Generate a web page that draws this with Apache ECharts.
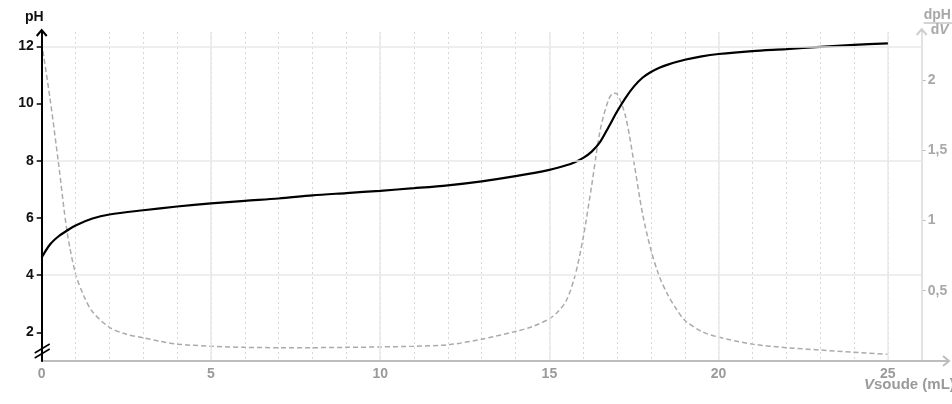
<!DOCTYPE html>
<html><head><meta charset="utf-8">
<script src="https://cdn.jsdelivr.net/npm/echarts@6/dist/echarts.min.js"></script>
<style>html,body{margin:0;padding:0;background:#fff}#c{width:952px;height:404px}</style>
</head><body><div id="c"></div>
<script>
// pH curve (left axis)
const phVolumes = [0, 0.25, 0.5, 0.75, 1, 1.5, 2, 3, 4, 5, 6, 7, 8, 9, 10, 11, 12, 13, 14, 15, 15.5, 15.75, 16, 16.25, 16.5, 16.75, 17, 17.25, 17.5, 17.75, 18, 18.25, 18.5, 19, 19.5, 20, 21, 22, 23, 24, 25];
const phValues  = [4.62, 5.08, 5.36, 5.56, 5.74, 5.98, 6.12, 6.27, 6.40, 6.51, 6.60, 6.68, 6.79, 6.87, 6.95, 7.04, 7.14, 7.28, 7.46, 7.68, 7.84, 7.95, 8.10, 8.32, 8.66, 9.18, 9.72, 10.20, 10.60, 10.90, 11.10, 11.25, 11.36, 11.53, 11.65, 11.73, 11.83, 11.90, 11.98, 12.05, 12.10];
// derivative dpH/dV (right axis)
const derivVolumes = [0, 0.25, 0.5, 0.75, 1, 1.25, 1.5, 2, 2.5, 3, 3.5, 4, 5, 6, 7, 8, 9, 10, 11, 12, 13, 14, 14.5, 15, 15.25, 15.5, 15.75, 16, 16.25, 16.5, 16.75, 16.9, 17, 17.25, 17.5, 17.75, 18, 18.25, 18.5, 18.75, 19, 19.5, 20, 21, 22, 23, 24, 25];
const derivValues  = [2.26, 1.86, 1.40, 0.92, 0.62, 0.46, 0.35, 0.24, 0.19, 0.165, 0.14, 0.12, 0.105, 0.097, 0.095, 0.095, 0.097, 0.10, 0.105, 0.115, 0.155, 0.21, 0.245, 0.30, 0.35, 0.43, 0.60, 0.88, 1.25, 1.64, 1.86, 1.905, 1.90, 1.74, 1.41, 1.05, 0.79, 0.60, 0.47, 0.37, 0.29, 0.21, 0.17, 0.12, 0.095, 0.078, 0.062, 0.048];
// tick labels
const xTicks = [0, 5, 10, 15, 20, 25];
const phTicks = [2, 4, 6, 8, 10, 12];
const derivTicks = [0.5, 1, 1.5, 2];

const FONT = "'Liberation Sans', Arial, sans-serif";
const chart = echarts.init(document.getElementById('c'));
const zip = (a, b) => a.map((v, i) => [v, b[i]]);

chart.setOption({
  animation: false,
  backgroundColor: '#fff',
  grid: { left: 41.7, right: 30.3, top: 32, bottom: 43, containLabel: false },
  xAxis: [
    {
      type: 'value', min: 0, max: 26, interval: 5, position: 'bottom',
      axisLine: { show: true, onZero: false, lineStyle: { color: '#bdbdbd', width: 2 } },
      axisTick: { show: false },
      axisLabel: { customValues: xTicks, color: '#9a9a9a', fontWeight: 'bold', fontSize: 14, fontFamily: FONT, margin: 6 },
      splitLine: { show: true, lineStyle: { color: '#e9e9e9', width: 1.5 } },
      z: 3
    },
    {
      type: 'value', min: 0, max: 26, interval: 1, position: 'bottom',
      axisLine: { show: false }, axisTick: { show: false }, axisLabel: { show: false },
      splitLine: { show: true, lineStyle: { color: '#d8d8d8', width: 1, type: [2, 3] } },
      z: 1
    }
  ],
  yAxis: [
    {
      type: 'value', min: 1, max: 12.5, interval: 1, position: 'left',
      axisLine: { show: true, onZero: false, lineStyle: { color: '#000', width: 2 } },
      axisTick: { show: true, customValues: phTicks, length: 5, lineStyle: { color: '#000', width: 1.5 } },
      axisLabel: { customValues: phTicks, color: '#111', fontWeight: 'bold', fontSize: 14, fontFamily: FONT, margin: 8 },
      splitLine: { show: true, lineStyle: { color: ['rgba(0,0,0,0)', '#e9e9e9'], width: 1.5 } },
      z: 5
    },
    {
      type: 'value', min: 0, max: 2.34, interval: 0.5, position: 'right',
      axisLine: { show: true, onZero: false, lineStyle: { color: '#cfcfcf', width: 2 } },
      axisTick: { show: true, customValues: derivTicks, length: 4, lineStyle: { color: '#bbb', width: 1 } },
      axisLabel: { customValues: derivTicks, color: '#a8a8a8', fontWeight: 'bold', fontSize: 14, fontFamily: FONT, margin: 6,
        formatter: v => String(v).replace('.', ',') },
      splitLine: { show: false }
    }
  ],
  series: [
    {
      type: 'line', xAxisIndex: 0, yAxisIndex: 1, data: zip(derivVolumes, derivValues),
      symbol: 'none', smooth: 0.3, lineStyle: { color: '#ababab', width: 1.5, type: [5, 3] }, z: 2
    },
    {
      type: 'line', xAxisIndex: 0, yAxisIndex: 0, data: zip(phVolumes, phValues),
      symbol: 'none', smooth: 0.3, lineStyle: { color: '#000', width: 2.2 }, z: 4
    }
  ]
});

const p0 = chart.convertToPixel({ xAxisIndex: 0, yAxisIndex: 0 }, [0, 1]);
const p1 = chart.convertToPixel({ xAxisIndex: 0, yAxisIndex: 0 }, [26, 12.5]);
const gx0 = p0[0], gyB = p0[1], gxR = p1[0], gyT = p1[1];
const W = 952;

chart.setOption({
  graphic: [
    // left axis arrow
    { type: 'line', z: 100, shape: { x1: gx0, y1: gyT, x2: gx0, y2: gyT - 2 }, style: { stroke: '#000', lineWidth: 2 } },
    { type: 'polyline', z: 100, shape: { points: [[gx0 - 5, gyT + 4], [gx0, gyT - 2], [gx0 + 5, gyT + 4]] }, style: { stroke: '#000', lineWidth: 2, fill: null } },
    // right axis arrow
    { type: 'line', z: 100, shape: { x1: gxR, y1: gyT, x2: gxR, y2: gyT - 3 }, style: { stroke: '#cfcfcf', lineWidth: 2 } },
    { type: 'polyline', z: 100, shape: { points: [[gxR - 5, gyT + 3], [gxR, gyT - 3], [gxR + 5, gyT + 3]] }, style: { stroke: '#cfcfcf', lineWidth: 2, fill: null } },
    // x axis extension + arrow
    { type: 'line', z: 100, shape: { x1: gxR, y1: gyB, x2: W - 3, y2: gyB }, style: { stroke: '#bdbdbd', lineWidth: 2 } },
    { type: 'polyline', z: 100, shape: { points: [[W - 9, gyB - 5], [W - 3, gyB], [W - 9, gyB + 5]] }, style: { stroke: '#bdbdbd', lineWidth: 2, fill: null } },
    // axis break marks
    { type: 'line', z: 100, shape: { x1: gx0 - 7, y1: gyB - 8, x2: gx0 + 8, y2: gyB - 17 }, style: { stroke: '#000', lineWidth: 1.5 } },
    { type: 'line', z: 100, shape: { x1: gx0 - 7, y1: gyB - 3, x2: gx0 + 8, y2: gyB - 12 }, style: { stroke: '#000', lineWidth: 1.5 } },
    // pH label
    { type: 'text', z: 100, x: gx0 + 2, y: gyT - 8, style: { text: 'pH', fill: '#111', font: "bold 14px 'Liberation Sans', Arial, sans-serif", align: 'right', verticalAlign: 'bottom' } },
    // dpH/dV label
    { type: 'text', z: 100, x: gxR + 2, y: 22, style: { text: 'dpH', fill: '#a8a8a8', font: "bold 14px 'Liberation Sans', Arial, sans-serif", align: 'left', verticalAlign: 'bottom' } },
    { type: 'line', z: 100, shape: { x1: gxR + 2, y1: 23, x2: W, y2: 23 }, style: { stroke: '#a8a8a8', lineWidth: 1 } },
    { type: 'text', z: 100, x: gxR + 18, y: 23.5, style: {
      text: '{i|d}{v|V}', align: 'center', verticalAlign: 'top',
      rich: {
        i: { fill: '#a8a8a8', font: "bold 14px 'Liberation Sans', Arial, sans-serif" },
        v: { fill: '#a8a8a8', font: "italic bold 14px 'Liberation Sans', Arial, sans-serif" }
      } } },
    // x axis name
    { type: 'text', z: 100, x: 864, y: 385, style: {
      text: '{v|V}{t|soude (mL)}', verticalAlign: 'middle', align: 'left',
      rich: {
        v: { fill: '#9a9a9a', font: "italic bold 15px 'Liberation Sans', Arial, sans-serif" },
        t: { fill: '#9a9a9a', font: "bold 15px 'Liberation Sans', Arial, sans-serif" }
      } } }
  ]
});
</script>
</body></html>
